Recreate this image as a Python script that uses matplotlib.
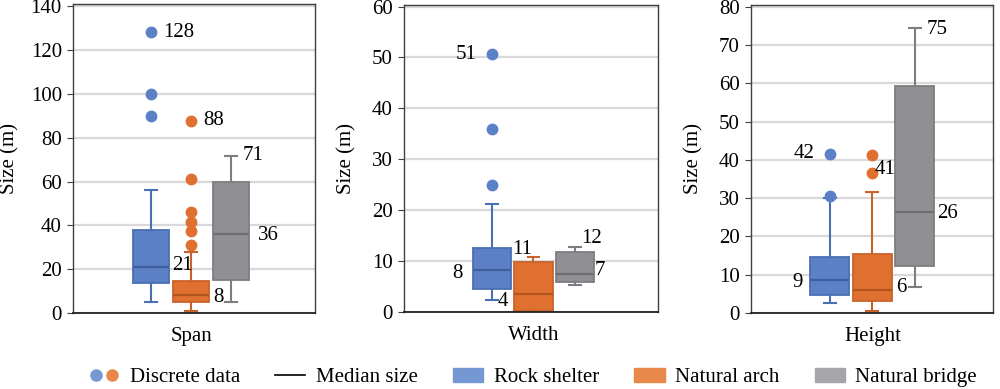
import matplotlib
matplotlib.use("Agg")
import matplotlib.pyplot as plt
from matplotlib.lines import Line2D
from matplotlib.patches import Patch
from matplotlib.legend_handler import HandlerTuple

plt.rcParams['font.family'] = 'serif'
plt.rcParams['font.serif'] = ['Liberation Serif', 'TeX Gyre Termes', 'DejaVu Serif']
FS = 15
plt.rcParams['font.size'] = FS

# ---------------- data ----------------
panels = ["Span", "Width", "Height"]
series = ["Rock shelter", "Natural arch", "Natural bridge"]

# box statistics per panel, per series: [whislo, q1, med, q3, whishi]
span_stats = [[5, 13.5, 21, 38, 56], [1, 5, 8, 14.5, 28], [5, 15, 36, 60, 71.5]]
width_stats = [[2.4, 4.6, 8.2, 12.5, 21.2], [0.2, 0.2, 3.6, 9.8, 10.9], [5.4, 5.8, 7.4, 11.7, 12.7]]
height_stats = [[2.5, 4.7, 8.7, 14.6, 30.0], [0.6, 3.1, 5.9, 15.3, 31.7], [6.7, 12.3, 26.3, 59.3, 74.5]]

span_fliers = [[90, 100, 128], [31, 37.5, 41.5, 46, 61, 87.5], []]
width_fliers = [[25, 36, 50.7], [], []]
height_fliers = [[30.5, 41.6], [36.7, 41.2], []]

# annotation labels: (text, x, y, ha)
span_labels = [("128", -0.70, 128, "left"), ("88", 0.30, 88, "left"), ("71", 1.28, 72, "left"),
               ("36", 1.68, 35.5, "left"), ("21", -0.48, 21.5, "left"), ("8", 0.55, 7, "left")]
width_labels = [("51", -1.37, 50.5, "right"), ("8", -1.71, 7.6, "right"), ("11", -0.51, 12.2, "left"),
                ("4", -0.87, 2.0, "left"), ("12", 1.16, 14.5, "left"), ("7", 1.47, 8.1, "left")]
height_labels = [("42", -1.36, 41.7, "right"), ("41", 0.05, 37.5, "left"), ("75", 1.27, 74, "left"),
                 ("26", 1.53, 26, "left"), ("9", -1.65, 8, "right"), ("6", 0.56, 6.6, "left")]

y_max = [141, 60.3, 80.5]
y_ticks = [list(range(0, 141, 20)), list(range(0, 61, 10)), list(range(0, 81, 10))]

# ---------------- style ----------------
fills = ["#5B80C6", "#E07030", "#909094"]
edges = ["#4A6FB3", "#C9622A", "#7E7E82"]
meds = ["#3E5E9C", "#B0551F", "#6E6E72"]
leg_cols = ["#7597D2", "#E8884A", "#A6A6AA"]

W, H = 1000, 389
fig = plt.figure(figsize=(W / 100, H / 100), dpi=100)

# axes pixel boxes: left, right, top, bottom
ax_px = [(73, 315, 4, 313), (404, 658, 5, 312), (751, 993, 5, 313)]
xlims = [(-2.95, 3.1), (-3.12, 3.0), (-2.86, 2.84)]
widths = [0.9, 0.92, 0.92]
ylabel_x = [19, 356, 703]

all_stats = [span_stats, width_stats, height_stats]
all_fliers = [span_fliers, width_fliers, height_fliers]
all_labels = [span_labels, width_labels, height_labels]

for i in range(3):
    l, r, t, b = ax_px[i]
    ax = fig.add_axes([l / W, 1 - b / H, (r - l) / W, (b - t) / H])

    for j in range(3):
        lo, q1, med, q3, hi = all_stats[i][j]
        st = [dict(whislo=lo, q1=q1, med=med, q3=q3, whishi=hi, fliers=all_fliers[i][j])]
        ax.bxp(st, positions=[j - 1], widths=widths[i], patch_artist=True, showfliers=True,
               manage_ticks=False,
               boxprops=dict(facecolor=fills[j], edgecolor=edges[j], lw=1.3),
               medianprops=dict(color=meds[j], lw=1.6),
               whiskerprops=dict(color=edges[j], lw=1.5),
               capprops=dict(color=edges[j], lw=1.5),
               capwidths=0.28,
               flierprops=dict(marker='o', markersize=7.5, markerfacecolor=fills[j],
                               markeredgecolor=fills[j]))

    ax.set_xlim(*xlims[i])
    ax.set_ylim(0, y_max[i])
    ax.set_yticks(y_ticks[i])
    ax.yaxis.grid(True, color="#D9D9D9", lw=1.6)
    ax.set_axisbelow(True)
    for s in ax.spines.values():
        s.set_color("#404040")
        s.set_linewidth(1.0)
    ax.spines['bottom'].set_linewidth(1.3)
    ax.spines['bottom'].set_color("#202020")
    ax.tick_params(axis='y', length=4, width=0.8, color="#404040", pad=4, labelsize=FS)
    ax.set_xticks([0])
    ax.set_xticklabels([panels[i]])
    ax.tick_params(axis='x', length=0, pad=10, labelsize=FS)
    ax.set_ylabel("Size (m)", fontsize=FS)
    ax.yaxis.set_label_coords((ylabel_x[i] - l) / (r - l), 0.5)

    for txt, x, y, ha in all_labels[i]:
        ax.text(x, y, txt, ha=ha, va='center', fontsize=FS, zorder=5)

# ---------------- legend ----------------
h_dots = (Line2D([], [], marker='o', ls='', markersize=8, color=leg_cols[0]),
          Line2D([], [], marker='o', ls='', markersize=8, color=leg_cols[1]))
h_med = Line2D([], [], color="black", lw=1.2)
h_boxes = [Patch(facecolor=c, edgecolor=c) for c in leg_cols]
handles = [h_dots, h_med] + h_boxes
labels = ["Discrete data", "Median size"] + series
fig.legend(handles, labels, loc='center', bbox_to_anchor=(0.533, 0.03), ncol=5, frameon=False,
           fontsize=FS, handler_map={tuple: HandlerTuple(ndivide=None, pad=0.1)},
           handlelength=1.45, handletextpad=0.5, columnspacing=1.7)

fig.savefig("out.png", dpi=100)
